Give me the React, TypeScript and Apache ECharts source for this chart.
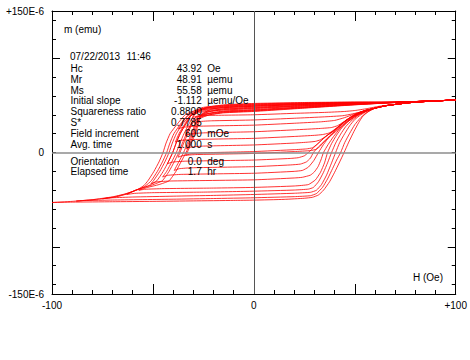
import React, { useEffect, useRef } from 'react';
import * as echarts from 'echarts';

// Shared saturated ascending segment (H in Oe, m in 1E-6 emu)
const satTail = [[60, 47], [65, 49.5], [77, 52.8], [88, 54.5], [100, 55.6]];

const loop01 = [[100, 55.6], [85, 54.4], [70, 53.3], [50, 53.5], [25, 53], [0, 52], [-15, 50.5], [-24, 47.5], [-28.5, 42], [-30.4, 37], [-28, 38.6], [-22, 39.3], [0, 40], [20, 41.5], [35, 42.5], [45, 43.5], [50, 44.5], [56, 46.5], [62, 49], [70, 51], [77, 52.8], [88, 54.5], [100, 55.6]];
const loop02 = [[100, 55.6], [85, 54.4], [70, 53.1], [50, 51.7], [25, 49.5], [0, 47], [-15, 45.5], [-22.6, 43], [-27.6, 38], [-29.4, 31], [-27, 32.8], [-21, 33.6], [0, 34.5], [20, 36.3], [35, 37.8], [44, 39], [49, 41], [54, 43.5], ...satTail];
const loop03 = [[100, 55.6], [85, 54.4], [70, 53.3], [50, 53], [25, 51.9], [0, 50.5], [-15, 49], [-27.4, 46], [-32.4, 40], [-35.9, 30], [-37.4, 25], [-35, 26.8], [-29, 27.8], [0, 29], [20, 31], [33, 32.5], [40, 34], [45, 37], [50, 41], [55, 44.5], ...satTail];
const loop04 = [[100, 55.6], [85, 54.4], [70, 53], [50, 51], [25, 48.1], [0, 45], [-15, 43.5], [-23.8, 41], [-28.8, 37.5], [-31.2, 30], [-33.4, 20], [-33.8, 18], [-31.3, 19.8], [-25, 20.8], [0, 22], [20, 24], [33, 25.5], [38.5, 26.5], [41.5, 28.5], [44.5, 32.5], [48, 37.5], [51, 41], [55, 44.5], ...satTail];
const loop05 = [[100, 55.6], [85, 54.4], [70, 53.3], [50, 52.4], [25, 50.9], [0, 49], [-15, 47.5], [-26.2, 45], [-31.2, 40], [-34.3, 30], [-37.1, 20], [-38.9, 11], [-36.4, 12.8], [-30, 13.8], [0, 15], [20, 17], [30, 18.2], [34, 19], [37, 20.5], [39.5, 23], [42, 27.5], [45, 33], [48, 37.5], [51, 41], [55, 44.5], ...satTail];
const loop06 = [[100, 55.6], [85, 54.4], [70, 53], [50, 50.7], [25, 47.4], [0, 44], [-15, 42.5], [-21.8, 40], [-26.8, 36], [-28.6, 30], [-30.25, 20], [-32.25, 10], [-33.4, 4], [-30.9, 5.8], [-25, 6.8], [0, 8], [20, 10], [27, 11], [30.5, 11.8], [33, 13.5], [35.5, 17], [39, 22], [42, 27.5], [45, 33], [48, 37.5], [51, 41], [55, 44.5], ...satTail];
const loop07 = [[100, 55.6], [85, 54.4], [70, 53.2], [50, 52.1], [25, 50.2], [0, 48], [-15, 46.5], [-21, 44], [-26, 40], [-27.5, 30], [-29, 20], [-31, 10], [-33, 0], [-33.75, -3], [-31.2, -1.3], [-25, -0.3], [0, 1], [20, 3], [26, 3.8], [29, 5], [31.5, 9], [34, 14], [37, 19.5], [40, 24.5], [43, 29.5], [46, 34.5], [49, 38.5], [52, 42], [55.5, 44.6], ...satTail];
const loop08 = [[100, 55.6], [85, 54.4], [70, 53], [50, 50.5], [25, 47], [0, 43.5], [-15, 42], [-23.4, 39.5], [-28.4, 35.5], [-30.65, 30], [-32.75, 20], [-34.75, 10], [-36.6, 0], [-37.6, -5], [-35, -3.2], [-29, -2.2], [0, -1], [20, 1], [28, 2], [31, 3.5], [33, 7], [35, 12], [37.5, 17.5], [40.5, 23], [43.5, 28.5], [46.5, 33.5], [49.5, 38], [52.5, 41.5], [56, 44.8], ...satTail];
const loop09 = [[100, 55.6], [85, 54.4], [70, 53.3], [50, 52.8], [25, 51.6], [0, 50], [-15, 48.5], [-25.8, 46], [-30.8, 40], [-33.8, 30], [-36.5, 20], [-38.5, 10], [-40.2, 0], [-42.4, -10], [-42.9, -12], [-40.4, -10.2], [-34, -9.2], [0, -8], [18, -6.3], [22, -5.5], [25, -3.5], [27, 0], [30, 6], [33, 12], [36, 17.5], [39.5, 23], [42.5, 28], [45.5, 33], [48.5, 37.5], [51.5, 41], [55.5, 44.5], ...satTail];
const loop10 = [[100, 55.6], [85, 54.4], [70, 53], [50, 51.2], [25, 48.4], [0, 45.5], [-15, 44], [-22.2, 41.5], [-27.2, 37], [-29.1, 30], [-30.9, 20], [-32.9, 10], [-34.8, 0], [-37.2, -10], [-39.45, -19], [-37, -17.2], [-31, -16.2], [0, -15], [18, -13.2], [23, -12.3], [26, -10], [28, -6], [29.5, 0], [32, 6], [35, 12], [38, 17.5], [41, 23], [44, 28.3], [47, 33.3], [50, 37.8], [53, 41.2], [56.5, 44.6], ...satTail];
const loop11 = [[100, 55.6], [85, 54.4], [70, 53.3], [50, 53.1], [25, 52.3], [0, 51], [-15, 49.5], [-24.6, 47], [-29.6, 40], [-32.2, 30], [-34.6, 20], [-36.6, 10], [-38.4, 0], [-40.7, -10], [-43.2, -20], [-45.2, -26], [-42.7, -24.2], [-36, -23.2], [0, -22], [20, -20], [24, -19], [27, -15.5], [29.7, -8.5], [32, 0], [34.5, 8.5], [37.5, 17], [41, 25], [44.5, 32], [48, 37.5], [51.5, 41.5], [55.5, 44.6], ...satTail];
const loop12 = [[100, 55.6], [85, 54.4], [70, 53.1], [50, 51.5], [25, 49.1], [0, 46.5], [-15, 45], [-27, 42.5], [-32, 38], [-35.4, 30], [-38.4, 20], [-40.4, 10], [-42, 0], [-44.1, -10], [-46.6, -20], [-49.75, -30], [-51, -33], [-48.5, -31.2], [-41, -30.2], [0, -29], [20, -27], [24, -26.3], [28, -24], [30, -20.5], [31.8, -15], [33.2, -8], [34.5, 0], [36.8, 8.5], [39.5, 17], [42.5, 25], [45.5, 31.5], [49, 37.5], [52.5, 41.7], [56, 44.7], ...satTail];
const loop13 = [[100, 55.6], [85, 54.4], [70, 53.3], [50, 52.6], [25, 51.3], [0, 49.5], [-15, 48], [-21.4, 45.5], [-26.4, 40], [-28, 30], [-29.6, 20], [-31.6, 10], [-33.6, 0], [-36.1, -10], [-38.6, -20], [-42, -30], [-47, -34], [-53, -37.2], [-57, -40], [-54, -39], [-45, -38.3], [-20, -37.7], [0, -37], [20, -35.5], [27, -34], [30.5, -29], [33, -21], [35, -11], [36.5, 0], [38.5, 9.5], [41, 18.5], [43.5, 26], [46.5, 32.5], [50, 38], [53.3, 42], [56.5, 44.8], ...satTail];
const loop14 = [[100, 55.6], [85, 54.4], [70, 53], [50, 50.9], [25, 47.7], [0, 44.5], [-15, 43], [-23.8, 40.5], [-28.8, 37], [-31.2, 30], [-33.4, 20], [-35.4, 10], [-37.2, 0], [-39.5, -10], [-42, -20], [-45.4, -30], [-50.5, -34.5], [-55, -37.5], [-58.5, -40], [-63, -44.5], [-59, -43.3], [-50, -42.6], [-25, -42], [0, -41], [20, -39.8], [27, -38.8], [29.5, -37], [32, -31], [34.5, -21], [36.5, -11], [38.5, 0], [40.5, 10], [43, 19.5], [45.5, 27.5], [48.5, 34], [51.5, 39], [54.5, 42.7], [57.5, 45.3], ...satTail];
const loop15 = [[100, 55.6], [85, 54.4], [70, 53.3], [50, 53.3], [25, 52.6], [0, 51.5], [-15, 50], [-25.8, 47.5], [-30.8, 40], [-33.8, 30], [-36.5, 20], [-38.5, 10], [-40.2, 0], [-42.4, -10], [-44.9, -20], [-48.1, -30], [-52, -35], [-55.5, -37.8], [-58.5, -40], [-63, -44], [-68, -47], [-75, -49], [-70, -48], [-60, -47.2], [-40, -46.3], [-20, -45.5], [0, -44.5], [20, -43.2], [28, -42.2], [31, -40], [33.5, -34], [36, -24], [38.5, -11], [40.5, 0], [42.5, 10.5], [45, 20], [47.5, 28.5], [50, 35], [53, 40], [56, 43.7], ...satTail];
const loop16 = [[100, 55.6], [85, 54.4], [70, 53.2], [50, 51.9], [25, 49.8], [0, 47.5], [-15, 46], [-27.8, 43.5], [-32.8, 39], [-36.4, 30], [-39.6, 20], [-41.6, 10], [-43.2, 0], [-45.3, -10], [-47.8, -20], [-50.85, -30], [-53.5, -35], [-56, -38], [-58.5, -40], [-63.5, -44], [-69, -47], [-76, -49.3], [-88, -51.5], [-84, -51], [-70, -50.4], [-40, -49.5], [-20, -48.8], [0, -48], [20, -46.8], [28, -45.8], [31, -43.5], [34, -37], [36.5, -28], [39, -17], [41, -8], [43, 0], [45, 10.5], [47.5, 20.5], [50, 29.5], [52.5, 36], [55, 41], [57.5, 44.5], ...satTail];
const loop17 = [[100, 55.6], [85, 54.4], [70, 53.3], [50, 52.4], [25, 50.9], [0, 49], [-15, 47.5], [-29, 44.5], [-34, 40], [-38, 30], [-41.5, 20], [-43.5, 10], [-45, 0], [-47, -10], [-49.5, -20], [-52.5, -30], [-54.5, -35], [-57, -38.5], [-60, -41.3], [-64, -44], [-70, -47], [-80, -50], [-90, -51.8], [-100, -53], [-90, -52.6], [-70, -52.2], [-50, -51.8], [-30, -51.3], [-10, -50.8], [0, -50.5], [15, -49.7], [25, -48.5], [29, -47.5], [32, -45], [34.5, -40], [37.5, -31], [40, -21], [42.5, -10], [44.7, 0], [47, 11], [49.5, 22], [52, 32], [54, 38.5], [56.5, 43], ...satTail];

const loops = [loop01, loop02, loop03, loop04, loop05, loop06, loop07, loop08, loop09, loop10, loop11, loop12, loop13, loop14, loop15, loop16, loop17];

// Axis ticks and labels
const xMinorTicks = [-90, -80, -70, -60, -50, -40, -30, -20, -10, 0, 10, 20, 30, 40, 50, 60, 70, 80, 90];
const xMajorTicks = [-50, 50];
const xLabelValues = [-100, 0, 100];
const yMinorTicks = [-140, -120, -100, -80, -60, -40, -20, 0, 20, 40, 60, 80, 100, 120, 140];
const yMajorTicks = [-100, 100];
const yLabelValues = [-150, 0, 150];

// Info block text
const dateText = '07/22/2013';
const timeText = '11:46';
const infoLabels = ['Hc', 'Mr', 'Ms', 'Initial slope', 'Squareness ratio', 'S*', 'Field increment', 'Avg. time', 'Orientation', 'Elapsed time'];
const infoValues = ['43.92', '48.91', '55.58', '-1.112', '0.8800', '0.7785', '600', '1.000', '0.0', '1.7'];
const infoUnits = ['Oe', 'µemu', 'µemu', 'µemu/Oe', '', '', 'mOe', 's', 'deg', 'hr'];
const yAxisTitle = 'm (emu)';
const xAxisTitle = 'H (Oe)';

export default function App() {
  const ref = useRef<HTMLDivElement>(null);
  useEffect(() => {
    if (!ref.current) return;
    const chart = echarts.init(ref.current, null, { renderer: 'svg' });
    const ff = "'Liberation Sans', Arial, sans-serif";
    const font = `10px ${ff}`;
    const black = '#000';

    const xBase = (position: string, ticks: number[], len: number, showLine: boolean, showLabel: boolean) => ({
      type: 'value', position, min: -100, max: 100,
      splitLine: { show: false },
      axisLine: { show: showLine, onZero: false, lineStyle: { color: black, width: 1 } },
      axisTick: { show: true, inside: true, length: len, customValues: ticks, lineStyle: { color: black, width: 1 } },
      axisLabel: showLabel ? {
        show: true, customValues: xLabelValues, margin: 6, color: black, fontSize: 10, fontFamily: ff,
        formatter: (v: number) => (v > 0 ? `+${v}` : `${v}`),
      } : { show: false },
    });
    const yBase = (position: string, ticks: number[], len: number, showLine: boolean, showLabel: boolean) => ({
      type: 'value', position, min: -150, max: 150,
      splitLine: { show: false },
      axisLine: { show: showLine, onZero: false, lineStyle: { color: black, width: 1 } },
      axisTick: { show: true, inside: true, length: len, customValues: ticks, lineStyle: { color: black, width: 1 } },
      axisLabel: showLabel ? {
        show: true, customValues: yLabelValues, margin: 8, color: black, fontSize: 10, fontFamily: ff,
        formatter: (v: number) => (v === 0 ? '0' : `${v > 0 ? '+' : ''}${v}E-6`),
      } : { show: false },
    });

    const rowsY = [68.3, 79, 90, 100.7, 111.7, 122.3, 133.3, 144, 161, 171.7];
    const txt = (text: string, x: number, y: number, align = 'left') => ({
      type: 'text', x, y, z: 100, silent: true,
      style: { text, font, fill: black, align, textAlign: align, verticalAlign: 'middle', textVerticalAlign: 'middle' },
    });
    const graphics: any[] = [
      txt(yAxisTitle, 64, 29.5),
      txt(xAxisTitle, 443, 277, 'right'),
      txt(dateText, 70, 56.7),
      txt(timeText, 126.5, 56.7),
    ];
    infoLabels.forEach((l, i) => {
      graphics.push(txt(l, 70.5, rowsY[i]));
      graphics.push(txt(infoValues[i], 201.7, rowsY[i], 'right'));
      if (infoUnits[i]) graphics.push(txt(infoUnits[i], 207.3, rowsY[i]));
    });

    const series: any[] = loops.map((d) => ({
      type: 'line', data: d, xAxisIndex: 0, yAxisIndex: 0,
      symbol: 'none', showSymbol: false, smooth: 0.15, silent: true, z: 3,
      lineStyle: { color: '#ff0000', width: 0.8 },
    }));
    series.unshift({
      type: 'line', data: [], xAxisIndex: 0, yAxisIndex: 0, symbol: 'none', silent: true, z: 1,
      markLine: {
        silent: true, symbol: ['none', 'none'], label: { show: false },
        data: [
          { xAxis: 0, lineStyle: { color: '#555', width: 1, type: 'solid' } },
          { yAxis: 0, lineStyle: { color: '#8c8c8c', width: 1.6, type: 'solid' } },
        ],
      },
    });

    chart.setOption({
      animation: false,
      backgroundColor: '#fff',
      grid: { left: 52, top: 11, width: 405, height: 283, containLabel: false },
      xAxis: [
        xBase('bottom', xMinorTicks, 4, true, true),
        xBase('top', xMinorTicks, 4, true, false),
        xBase('bottom', xMajorTicks, 10, false, false),
        xBase('top', xMajorTicks, 10, false, false),
      ],
      yAxis: [
        yBase('left', yMinorTicks, 4, true, true),
        yBase('right', yMinorTicks, 4, true, false),
        yBase('left', yMajorTicks, 8, false, false),
        yBase('right', yMajorTicks, 8, false, false),
      ],
      series,
      graphic: { elements: graphics },
    });
    return () => chart.dispose();
  }, []);
  return <div ref={ref} style={{ position: 'fixed', left: 0, top: 0, width: 470, height: 360, background: '#fff' }} />;
}
